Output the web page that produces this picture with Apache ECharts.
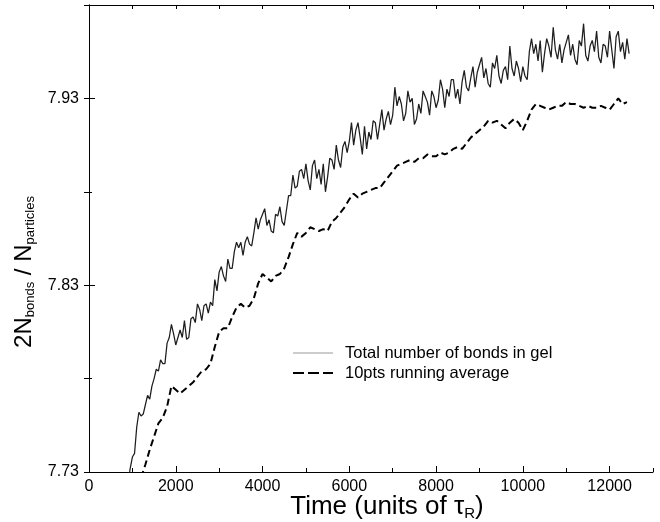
<!DOCTYPE html>
<html>
<head>
<meta charset="utf-8">
<script src="https://cdn.jsdelivr.net/npm/echarts@6/dist/echarts.min.js"></script>
<style>
  html, body { margin: 0; padding: 0; background: #fff; }
  #chart { width: 660px; height: 522px; }
</style>
</head>
<body>
<div id="chart"></div>
<script>
// Bond count per particle in the gel, sampled every 50 time units from t = 900
const bondStart = 900;
const bondStep = 50;
const bondValues = [
  7.724, 7.732, 7.738, 7.740, 7.754, 7.762, 7.760, 7.761, 7.766, 7.771,
  7.769, 7.776, 7.780, 7.785, 7.784, 7.790, 7.788, 7.788, 7.799, 7.802,
  7.809, 7.804,
  7.798, 7.802, 7.806, 7.802, 7.811, 7.801, 7.802, 7.812, 7.813, 7.810,
  7.820, 7.817, 7.811, 7.819, 7.820, 7.815, 7.821, 7.819, 7.833, 7.827,
  7.837, 7.840, 7.835, 7.832, 7.844, 7.839, 7.839, 7.848, 7.853, 7.850,
  7.853, 7.846, 7.853, 7.856, 7.852, 7.851, 7.858, 7.866, 7.860, 7.865,
  7.868, 7.871, 7.862, 7.865, 7.859, 7.858, 7.868, 7.867, 7.872, 7.864,
  7.862, 7.870, 7.878, 7.878, 7.889, 7.882, 7.883, 7.891, 7.892, 7.887,
  7.895, 7.886, 7.881, 7.894, 7.897, 7.887, 7.892, 7.884, 7.895, 7.880,
  7.888, 7.898, 7.897, 7.892, 7.905, 7.897, 7.893, 7.904, 7.907, 7.901,
  7.907, 7.917, 7.905, 7.913, 7.917, 7.909, 7.900, 7.915, 7.903, 7.912,
  7.908, 7.918, 7.917, 7.908, 7.916, 7.924, 7.913, 7.919, 7.923, 7.916,
  7.921, 7.936, 7.926, 7.931, 7.927, 7.918, 7.922, 7.934, 7.928, 7.930,
  7.916, 7.919, 7.927, 7.922, 7.934, 7.931, 7.928, 7.921, 7.934, 7.931,
  7.925, 7.929, 7.940, 7.935, 7.925, 7.935, 7.931, 7.940, 7.940, 7.930,
  7.935, 7.927, 7.939, 7.945, 7.936, 7.934, 7.941, 7.947, 7.936, 7.944,
  7.948, 7.952, 7.941, 7.946, 7.938, 7.936, 7.949, 7.946, 7.953, 7.942,
  7.938, 7.945, 7.947, 7.940, 7.958, 7.946, 7.942, 7.950, 7.946, 7.939,
  7.947, 7.942, 7.940, 7.955, 7.962, 7.954, 7.959, 7.950, 7.961, 7.944,
  7.954, 7.962, 7.958, 7.952, 7.968, 7.956, 7.951, 7.959, 7.949, 7.956,
  7.960, 7.964, 7.953, 7.959, 7.951, 7.948, 7.961, 7.958, 7.970, 7.953,
  7.950, 7.958, 7.961, 7.955, 7.966, 7.952, 7.949, 7.959, 7.958, 7.952,
  7.966, 7.956, 7.946, 7.963, 7.966, 7.955, 7.960, 7.951, 7.962, 7.954
];

// Running average curve, every 100 time units from t = 1200
const avgStart = 1200;
const avgStep = 100;
const avgValues = [
  7.727, 7.734, 7.742, 7.749, 7.756, 7.759, 7.765, 7.776, 7.774, 7.772,
  7.774, 7.776, 7.778, 7.781, 7.784, 7.785, 7.788, 7.797, 7.805, 7.807,
  7.807, 7.813, 7.818, 7.820, 7.818, 7.819, 7.823, 7.831, 7.836, 7.834,
  7.832, 7.835, 7.836, 7.839, 7.845, 7.852, 7.858, 7.856, 7.858, 7.861,
  7.860, 7.859, 7.860, 7.859, 7.864, 7.866, 7.869, 7.872, 7.876, 7.879,
  7.877, 7.879, 7.880, 7.881, 7.882, 7.882, 7.885, 7.888, 7.891, 7.894,
  7.895, 7.896, 7.897, 7.896, 7.898, 7.898, 7.900, 7.899, 7.899, 7.901,
  7.900, 7.901, 7.903, 7.904, 7.903, 7.906, 7.909, 7.911, 7.913, 7.915,
  7.918, 7.917, 7.918, 7.916, 7.914, 7.917, 7.919, 7.917, 7.913, 7.918,
  7.924, 7.927, 7.926, 7.925, 7.924, 7.925, 7.926, 7.926, 7.928, 7.927,
  7.927, 7.926, 7.925, 7.926, 7.925, 7.925, 7.926, 7.925, 7.924, 7.927,
  7.930, 7.927, 7.928
];

const seriesNames = ['Total number of bonds in gel', '10pts running average'];
const xRange = [0, 13000];
const yRange = [7.73, 7.98];

const FONT = '"Liberation Sans", Arial, Helvetica, sans-serif';
const black = '#000';
const rawColor = '#1e1e1e';
const rawLegendColor = '#9a9a9a';

const bondData = bondValues.map((v, i) => [bondStart + bondStep * i, v]);
const avgData = avgValues.map((v, i) => [avgStart + avgStep * i, v]);

const baseAxis = {
  type: 'value',
  splitLine: { show: false },
  axisLine: { show: false },
  axisLabel: { show: false },
  axisTick: { show: true, inside: true, lineStyle: { color: black, width: 1 } }
};

const titleRich = (main, sub) => ({
  m: { fontSize: main, fontFamily: FONT, fill: black, lineHeight: main + 2 },
  s: { fontSize: sub, fontFamily: FONT, fill: black, lineHeight: 10, verticalAlign: 'bottom' }
});

const chart = echarts.init(document.getElementById('chart'), null, { renderer: 'canvas' });

chart.setOption({
  animation: false,
  backgroundColor: '#fff',
  grid: { left: 89, right: 7, top: 5, bottom: 50, containLabel: false },
  xAxis: [
    Object.assign({}, baseAxis, {
      position: 'bottom',
      min: xRange[0], max: xRange[1], interval: 2000,
      axisLine: { show: true, lineStyle: { color: black, width: 1 } },
      axisTick: { show: true, inside: true, length: 6, lineStyle: { color: black } },
      axisLabel: {
        show: true, color: black, fontSize: 16, fontFamily: FONT, margin: 7,
        showMaxLabel: false,
        formatter: v => String(v)
      }
    }),
    Object.assign({}, baseAxis, {
      position: 'bottom',
      min: xRange[0], max: xRange[1], interval: 1000,
      axisTick: { show: true, inside: true, length: 4, lineStyle: { color: black } }
    }),
    Object.assign({}, baseAxis, {
      position: 'top',
      min: xRange[0], max: xRange[1], interval: 1000,
      axisLine: { show: true, lineStyle: { color: black, width: 1 } },
      axisTick: { show: true, inside: true, length: 4, lineStyle: { color: black } }
    })
  ],
  yAxis: [
    Object.assign({}, baseAxis, {
      position: 'left',
      min: yRange[0], max: yRange[1], interval: 0.1,
      axisLine: { show: true, lineStyle: { color: black, width: 1 } },
      axisTick: { show: true, inside: true, length: 6, lineStyle: { color: black } },
      axisLabel: {
        show: true, color: black, fontSize: 16, fontFamily: FONT, margin: 10,
        showMaxLabel: false,
        formatter: v => v.toFixed(2)
      }
    }),
    Object.assign({}, baseAxis, {
      position: 'left',
      min: yRange[0], max: yRange[1], interval: 0.05,
      axisTick: { show: true, inside: true, length: 3, lineStyle: { color: black } }
    }),
    Object.assign({}, baseAxis, {
      position: 'right',
      min: yRange[0], max: yRange[1], interval: 0.05,
      axisLine: { show: true, lineStyle: { color: black, width: 1 } },
      axisTick: { show: true, inside: true, length: 5, lineStyle: { color: black } }
    })
  ],
  graphic: [
    // axis titles
    {
      type: 'text',
      x: 387, y: 507,
      style: {
        text: '{m|Time (units of τ}{s|R}{m|)}',
        rich: titleRich(26, 15),
        align: 'center', verticalAlign: 'middle'
      }
    },
    {
      type: 'text',
      x: 24, y: 272,
      rotation: Math.PI / 2,
      style: {
        text: '{m|2N}{s|bonds}{m| / N}{s|particles}',
        rich: titleRich(24, 13),
        align: 'center', verticalAlign: 'middle'
      }
    },
    // key
    {
      type: 'line',
      shape: { x1: 293, y1: 353, x2: 333, y2: 353 },
      style: { stroke: rawLegendColor, lineWidth: 1.2 }
    },
    {
      type: 'line',
      shape: { x1: 293, y1: 373, x2: 333, y2: 373 },
      style: { stroke: black, lineWidth: 2, lineDash: [11, 4] }
    },
    {
      type: 'text',
      x: 345, y: 353,
      style: { text: seriesNames[0], fontSize: 16.5, fontFamily: FONT, fill: black, verticalAlign: 'middle' }
    },
    {
      type: 'text',
      x: 345, y: 373,
      style: { text: seriesNames[1], fontSize: 16.5, fontFamily: FONT, fill: black, verticalAlign: 'middle' }
    }
  ],
  series: [
    {
      name: seriesNames[0],
      type: 'line',
      xAxisIndex: 0,
      yAxisIndex: 0,
      data: bondData,
      symbol: 'none',
      showSymbol: false,
      clip: true,
      lineStyle: { color: rawColor, width: 1.25 },
      z: 2
    },
    {
      name: seriesNames[1],
      type: 'line',
      xAxisIndex: 0,
      yAxisIndex: 0,
      data: avgData,
      symbol: 'none',
      showSymbol: false,
      clip: true,
      lineStyle: { color: black, width: 2, type: [7, 4] },
      z: 3
    }
  ]
});
</script>
</body>
</html>
